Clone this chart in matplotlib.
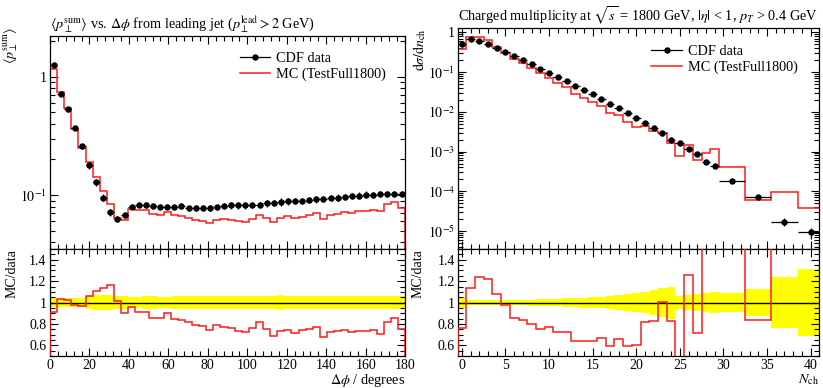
import numpy as np
import matplotlib
matplotlib.use("Agg")
import matplotlib.pyplot as plt
from matplotlib.ticker import MultipleLocator, LogLocator, FuncFormatter, NullFormatter, FixedLocator
from matplotlib.lines import Line2D

plt.rcParams['font.family'] = ['Liberation Serif', 'DejaVu Serif']
plt.rcParams['mathtext.fontset'] = 'stix'
plt.rcParams['font.size'] = 10

# ---- left: <pT sum> vs delta phi, 50 bins of 3.6 deg
dphi_edges = np.linspace(0, 180, 51)
dphi_data = [1.26, 0.72, 0.53, 0.37, 0.258, 0.179, 0.129, 0.095, 0.072, 0.063,
             0.068, 0.080, 0.083, 0.082, 0.081, 0.080, 0.080, 0.080, 0.0805, 0.078,
             0.078, 0.078, 0.078, 0.079, 0.0805, 0.0817, 0.082, 0.082, 0.083, 0.083,
             0.085, 0.086, 0.0877, 0.089, 0.089, 0.089, 0.0906, 0.092, 0.093, 0.0948,
             0.095, 0.097, 0.098, 0.099, 0.101, 0.101, 0.103, 0.103, 0.102, 0.103]
dphi_relerr = [0.045, 0.045, 0.045, 0.045, 0.045, 0.065, 0.07, 0.07, 0.07, 0.06,
               0.06, 0.05, 0.05, 0.06, 0.06, 0.05, 0.05, 0.06, 0.06, 0.06,
               0.06, 0.065, 0.065, 0.06, 0.06, 0.06, 0.065, 0.065, 0.06, 0.06,
               0.06, 0.065, 0.07, 0.065, 0.06, 0.06, 0.06, 0.06, 0.06, 0.065,
               0.065, 0.06, 0.06, 0.065, 0.065, 0.06, 0.06, 0.06, 0.06, 0.06]
dphi_ratio = [0.914, 1.035, 1.02, 0.98, 0.965, 1.063, 1.108, 1.14, 1.16, 1.016,
              0.905, 0.962, 0.908, 0.914, 0.86, 0.857, 0.90, 0.845, 0.835, 0.82,
              0.787, 0.78, 0.74, 0.787, 0.775, 0.76, 0.733, 0.727, 0.762, 0.82,
              0.756, 0.69, 0.733, 0.743, 0.714, 0.74, 0.756, 0.771, 0.673, 0.72,
              0.733, 0.74, 0.72, 0.737, 0.73, 0.74, 0.708, 0.82, 0.86, 0.75]

# ---- right: charged multiplicity
nch_edges = np.concatenate([np.arange(-0.5, 30, 1.0), [32.5, 35.5, 38.5, 41.5]])
nch_data = [0.516, 0.665, 0.627, 0.516, 0.401, 0.318, 0.252, 0.20, 0.158, 0.123,
            0.0953, 0.0755, 0.0586, 0.0447, 0.0347, 0.0275, 0.0209, 0.0160, 0.0126, 0.0094,
            0.0071, 0.0053, 0.0039, 0.0029, 0.0020, 0.0016, 0.00118, 0.00086, 0.00055, 0.00044,
            1.8e-4, 7.3e-5, 1.7e-5, 9.3e-6]
nch_relerr = [0.055, 0.02, 0.02, 0.02, 0.02, 0.022, 0.024, 0.026, 0.028, 0.03,
              0.033, 0.036, 0.04, 0.043, 0.047, 0.05, 0.055, 0.06, 0.07, 0.08,
              0.09, 0.10, 0.12, 0.135, 0.15, 0.065, 0.07, 0.08, 0.085, 0.095,
              0.09, 0.13, 0.235, 0.31]
nch_ratio = [0.76, 1.139, 1.24, 1.217, 1.082, 0.98, 0.858, 0.833, 0.795, 0.754,
             0.767, 0.723, 0.723, 0.641, 0.641, 0.641, 0.669, 0.597, 0.66, 0.594,
             0.603, 0.817, 0.824, 1.006, 0.83, 0.49, 1.26, 0.717, 1.64, 2.7,
             2.3, 0.84, 5.6, 4.0]

RED = '#ff1a1a'


def decade(v, pos):
    e = int(round(np.log10(v)))
    return '1' if e == 0 else r'$10^{%d}$' % e


def style(ax):
    ax.tick_params(which='both', direction='in', top=True, right=True, width=0.8)
    ax.tick_params(which='major', length=6, pad=2.5)
    ax.tick_params(which='minor', length=3.5)
    for s in ax.spines.values():
        s.set_linewidth(0.9)


def panel(ax, axr, edges, data, relerr, ratio, title, ylabel, xlabel, xlim, ylim, xmaj, xmin):
    edges = np.asarray(edges)
    data = np.asarray(data)
    relerr = np.asarray(relerr)
    ratio = np.asarray(ratio)
    centers = 0.5 * (edges[1:] + edges[:-1])
    half = 0.5 * (edges[1:] - edges[:-1])
    mc = data * ratio

    ax.stairs(mc, edges, color=RED, lw=1.1, zorder=2)
    ax.errorbar(centers, data, xerr=half, yerr=data * relerr, fmt='o', color='k',
                ms=3.6, lw=0.9, capsize=0, zorder=3)
    ax.set_yscale('log')
    ax.set_xlim(*xlim)
    ax.set_ylim(*ylim)
    ax.yaxis.set_major_locator(LogLocator(base=10))
    ax.yaxis.set_major_formatter(FuncFormatter(decade))
    ax.yaxis.set_minor_locator(LogLocator(base=10, subs=np.arange(2, 10)))
    ax.yaxis.set_minor_formatter(NullFormatter())
    ax.xaxis.set_major_locator(MultipleLocator(xmaj))
    ax.xaxis.set_minor_locator(MultipleLocator(xmin))
    ax.tick_params(labelbottom=False)
    style(ax)
    ax.set_title(title, loc='left', fontsize=10.3, pad=5)
    ax.set_ylabel(ylabel, loc='top', fontsize=10)

    handles = [Line2D([], [], color='k', marker='o', ms=3.6, lw=0.9),
               Line2D([], [], color=RED, lw=1.1)]
    ax.legend(handles, ['CDF data', 'MC (TestFull1800)'], loc='upper left',
              bbox_to_anchor=(0.535, 0.925), frameon=False, fontsize=10.3,
              handlelength=2.1, handletextpad=0.45, labelspacing=0.2,
              borderpad=0, borderaxespad=0)

    axr.stairs(1 + relerr, edges, baseline=1 - relerr, fill=True, color='#ffff00', lw=0, zorder=1)
    axr.axhline(1, color='k', lw=1.0, zorder=2)
    axr.stairs(ratio, edges, color=RED, lw=1.1, zorder=3)
    axr.set_xlim(*xlim)
    axr.set_ylim(0.5, 1.5)
    axr.yaxis.set_major_locator(FixedLocator([0.6, 0.8, 1.0, 1.2, 1.4]))
    axr.yaxis.set_major_formatter(FuncFormatter(lambda v, p: '%g' % v))
    axr.yaxis.set_minor_locator(MultipleLocator(0.05))
    axr.xaxis.set_major_locator(MultipleLocator(xmaj))
    axr.xaxis.set_minor_locator(MultipleLocator(xmin))
    style(axr)
    axr.set_ylabel('MC/data', loc='top', fontsize=10)
    axr.set_xlabel(xlabel, loc='right', fontsize=10.3, labelpad=0)


fig = plt.figure(figsize=(8.23, 3.88), dpi=100)

axL = fig.add_axes([0.0608, 0.358, 0.4314, 0.549])
axLr = fig.add_axes([0.0608, 0.0825, 0.4314, 0.2755])
panel(axL, axLr, dphi_edges, dphi_data, dphi_relerr, dphi_ratio,
      r'$\langle p_\perp^\mathrm{sum}\rangle$ vs. $\Delta\phi$ from leading jet ($p_\perp^\mathrm{lead} > 2$ GeV)',
      r'$\langle p_\perp^\mathrm{sum}\rangle$', r'$\Delta\phi$ / degrees',
      (0, 180), (0.035, 2.2), 20, 4)

axR = fig.add_axes([0.557, 0.358, 0.4385, 0.570])
axRr = fig.add_axes([0.557, 0.0825, 0.4385, 0.2755])
panel(axR, axRr, nch_edges, nch_data, nch_relerr, nch_ratio,
      r'Charged multiplicity at $\sqrt{s}$ = 1800 GeV, $|\eta|$ < 1, $p_T$ > 0.4 GeV',
      r'$\mathrm{d}\sigma/\mathrm{d}n_\mathrm{ch}$', r'$N_\mathrm{ch}$',
      (-0.4, 41.0), (3.5e-6, 1.3), 5, 1)

axL.yaxis.set_label_coords(-0.085, 1.04)
axLr.yaxis.set_label_coords(-0.09, 1.0)
axR.yaxis.set_label_coords(-0.085, 1.0)
axRr.yaxis.set_label_coords(-0.093, 1.0)

fig.savefig('out.png', dpi=100)
